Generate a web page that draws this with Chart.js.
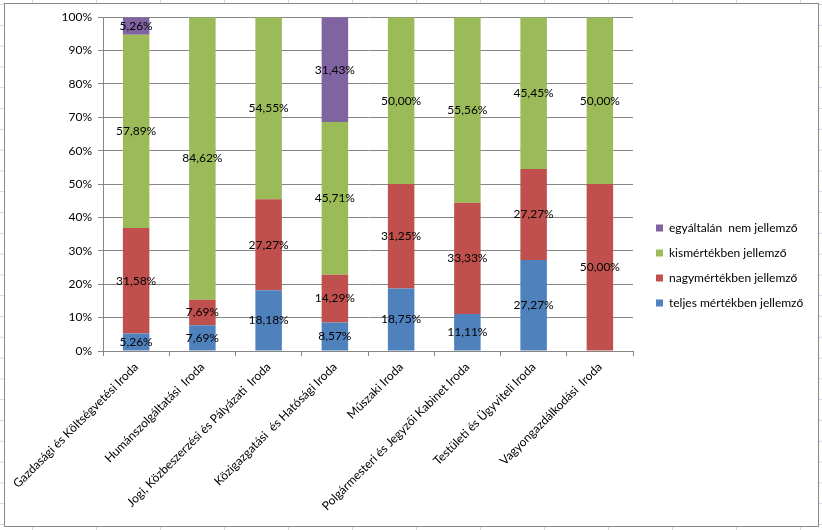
<!DOCTYPE html>
<html>
<head>
<meta charset="utf-8">
<script src="https://cdn.jsdelivr.net/npm/chart.js@4.4.0/dist/chart.umd.min.js"></script>
<style>
  html, body { margin: 0; padding: 0; }
  body {
    width: 822px; height: 530px; overflow: hidden; position: relative;
    background-color: #fff;
    background-image: linear-gradient(to right, #d0d7e5 1px, transparent 1px),
                      linear-gradient(to bottom, #d0d7e5 1px, transparent 1px);
    background-size: 64px 20.8px;
    background-position: 32px 4px;
  }
  #box { position: absolute; left: 4px; top: 3px; width: 813px; height: 522px; background: #fff; border: 1px solid #878787; }
  canvas { display: block; }
</style>
</head>
<body>
<div id="box"><canvas id="chart" width="813" height="522"></canvas></div>
<script>
const offices = [
  'Gazdasági és Költségvetési Iroda',
  'Humánszolgáltatási  Iroda',
  'Jogi, Közbeszerzési és Pályázati  Iroda',
  'Közigazgatási  és Hatósági Iroda',
  'Műszaki Iroda',
  'Polgármesteri és Jegyzői Kabinet Iroda',
  'Testületi és Ügyviteli Iroda',
  'Vagyongazdálkodási  Iroda'
];
const teljes = [5.26, 7.69, 18.18, 8.57, 18.75, 11.11, 27.27, 0];
const nagy = [31.58, 7.69, 27.27, 14.29, 31.25, 33.33, 27.27, 50.00];
const kis = [57.89, 84.62, 54.55, 45.71, 50.00, 55.56, 45.45, 50.00];
const egyaltalan = [5.26, 0, 0, 31.43, 0, 0, 0, 0];

const FONT = 'Lato';
const gridColor = '#868686';

// value labels in the middle of each segment
const segmentLabels = {
  id: 'segmentLabels',
  afterDatasetsDraw(chart) {
    const ctx = chart.ctx;
    ctx.save();
    ctx.font = '12px ' + FONT;
    ctx.fillStyle = '#000';
    ctx.textAlign = 'center';
    ctx.textBaseline = 'middle';
    chart.data.datasets.forEach((ds, i) => {
      chart.getDatasetMeta(i).data.forEach((bar, j) => {
        const v = ds.data[j];
        if (!v) return;
        ctx.fillText(v.toFixed(2).replace('.', ',') + '%', bar.x, (bar.y + bar.base) / 2);
      });
    });
    ctx.restore();
  }
};

// legend sits a bit away from the plot
const legendOffset = {
  id: 'legendOffset',
  beforeInit(chart) {
    const fit = chart.legend.fit;
    chart.legend.fit = function () {
      fit.call(this);
      this.width = 185;
    };
  },
  afterLayout(chart) {
    chart.legend.left += 10;
    chart.legend.right += 10;
    chart.legend.top -= 6;
    chart.legend.bottom -= 6;
  }
};

new Chart(document.getElementById('chart'), {
  type: 'bar',
  data: {
    labels: offices,
    datasets: [
      { label: 'teljes mértékben jellemző', data: teljes, backgroundColor: '#4F81BD' },
      { label: 'nagymértékben jellemző', data: nagy, backgroundColor: '#C0504D' },
      { label: 'kismértékben jellemző', data: kis, backgroundColor: '#9BBB59' },
      { label: 'egyáltalán  nem jellemző', data: egyaltalan, backgroundColor: '#8064A2' }
    ]
  },
  options: {
    responsive: false,
    animation: false,
    barPercentage: 0.4,
    categoryPercentage: 1,
    borderWidth: 0,
    layout: { padding: { top: 13, left: 0, right: 0, bottom: 0 } },
    plugins: {
      tooltip: { enabled: false },
      legend: {
        position: 'right',
        reverse: true,
        labels: {
          boxWidth: 7,
          boxHeight: 7,
          padding: 13,
          color: '#000',
          font: { family: FONT, size: 12 }
        }
      }
    },
    scales: {
      x: {
        stacked: true,
        grid: { drawOnChartArea: false, drawTicks: true, tickLength: 5, color: gridColor },
        border: { color: gridColor },
        ticks: {
          autoSkip: false, minRotation: 45, maxRotation: 45, padding: 4,
          color: '#000', font: { family: FONT, size: 12 }
        },
        afterFit(scale) { scale.height = 175; }
      },
      y: {
        stacked: true,
        min: 0,
        max: 100,
        grid: { color: gridColor, tickLength: 5 },
        border: { color: gridColor },
        ticks: {
          stepSize: 10, padding: 6, color: '#000', font: { family: FONT, size: 12 },
          callback: v => v + '%'
        },
        afterFit(scale) { scale.width = 98; }
      }
    }
  },
  plugins: [segmentLabels, legendOffset]
});
</script>
</body>
</html>
